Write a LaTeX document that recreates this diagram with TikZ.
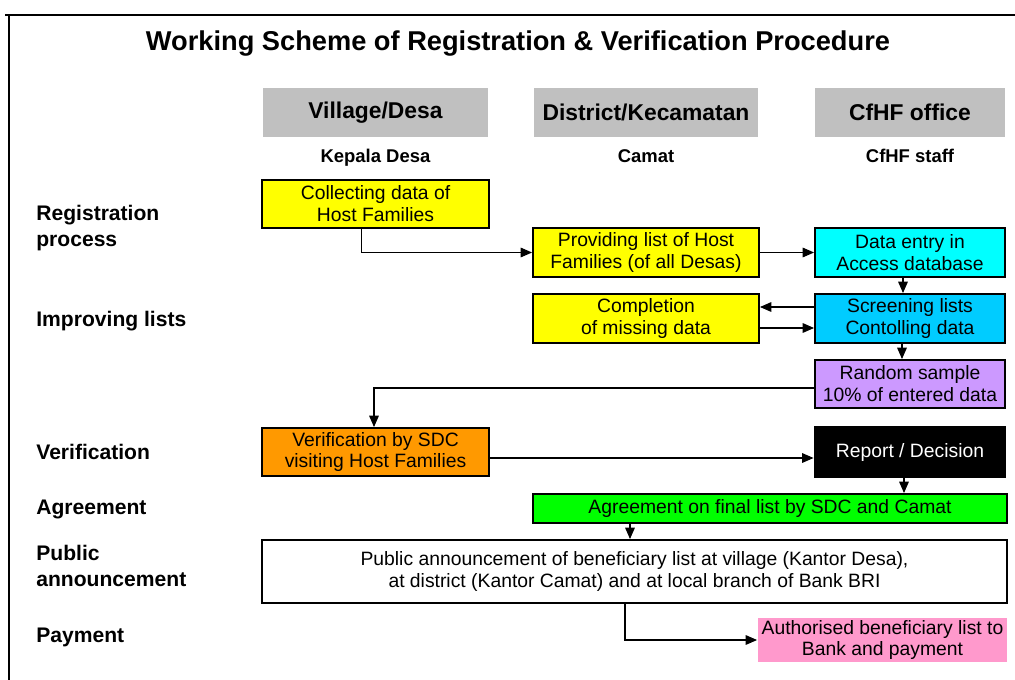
\documentclass[tikz,border=0pt]{standalone}
\usepackage{fontspec}
\setmainfont{Liberation Sans}
\usepackage{xcolor}
\usetikzlibrary{shapes,arrows.meta,positioning}

\definecolor{hdrgray}{HTML}{C0C0C0}
\definecolor{boxyellow}{HTML}{FFFF00}
\definecolor{boxcyan}{HTML}{00FFFF}
\definecolor{boxsky}{HTML}{00CCFF}
\definecolor{boxlilac}{HTML}{CC99FF}
\definecolor{boxorange}{HTML}{FF9900}
\definecolor{boxgreen}{HTML}{00FF00}
\definecolor{boxpink}{HTML}{FF99CC}

\begin{document}
\begin{tikzpicture}[x=0.02cm, y=-0.02cm, node distance=0.2cm]
    % Styles
    \tikzstyle{block} = [rectangle, draw, line width=1.1pt, align=center, inner sep=1pt, font=\fontsize{11}{12.5}\selectfont]
    \tikzstyle{header} = [rectangle, fill=hdrgray, minimum width=4.5cm, minimum height=0.98cm, font=\fontsize{13}{15}\bfseries]
    \tikzstyle{staff} = [font=\fontsize{10.5}{12.5}\bfseries]
    \tikzstyle{phase} = [anchor=west, align=left, inner sep=0pt, font=\fontsize{12}{15}\bfseries]
    \tikzstyle{line} = [draw, line width=0.6pt, -{Triangle[length=6.5pt,width=5.5pt]}]
    \useasboundingbox (0,0) rectangle (1015,680);

    % Frame
    \draw[line width=1.5pt] (5,15) -- (1015,15);
    \draw[line width=1.5pt] (9,15) -- (9,680);

    % Title and columns
    \node[font=\fontsize{15.5}{18}\bfseries] (title) at (518,44) {Working Scheme of Registration \& Verification Procedure};
    \node [header] (desa) at (375.5,112.5) {Village/Desa};
    \node [header] (camat) at (646,112.5) {District/Kecamatan};
    \node [header, minimum width=3.8cm] (cfhf) at (910,112.5) {CfHF office};
    \node [staff, below=0.12cm of desa] (kepala) {Kepala Desa};
    \node [staff, below=0.12cm of camat] (camatstaff) {Camat};
    \node [staff, below=0.12cm of cfhf] (cfhfstaff) {CfHF staff};

    % Phases
    \node [phase] (regis) at (36,228) {Registration\\process};
    \node [phase] (improve) at (36,321) {Improving lists};
    \node [phase] (verif) at (36,452) {Verification};
    \node [phase] (agreem) at (36,509) {Agreement};
    \node [phase] (publ) at (36,566) {Public\\announcement};
    \node [phase] (paym) at (36,637) {Payment};

    % Nodes
    \node [block, fill=boxyellow, minimum width=4.54cm, minimum height=0.96cm] (collect) at (375.5,204) {Collecting data of\\Host Families};
    \node [block, fill=boxyellow, minimum width=4.52cm, minimum height=0.98cm] (provide) at (646,252.5) {Providing list of Host\\Families (of all Desas)};
    \node [block, fill=boxcyan, minimum width=3.8cm, minimum height=0.98cm] (entry) at (910,252.5) {Data entry in\\Access database};
    \node [block, fill=boxyellow, minimum width=4.52cm, minimum height=0.98cm] (complete) at (646,318.5) {Completion\\of missing data};
    \node [block, fill=boxsky, minimum width=3.8cm, minimum height=0.98cm] (screen) at (910,318.5) {Screening lists\\Contolling data};
    \node [block, fill=boxlilac, minimum width=3.8cm, minimum height=0.96cm] (sample) at (910,384) {Random sample\\10\% of entered data};
    \node [block, fill=boxorange, minimum width=4.54cm, minimum height=0.96cm] (verify) at (375.5,452) {Verification by SDC\\visiting Host Families};
    \node [block, fill=black, text=white, minimum width=3.82cm, minimum height=1cm] (report) at (910,452) {Report / Decision};
    \node [block, fill=boxgreen, minimum width=9.48cm, minimum height=0.58cm] (agree) at (770,508.5) {Agreement on final list by SDC and Camat};
    \node [block, fill=white, minimum width=14.9cm, minimum height=1.26cm] (public) at (634.5,571.5) {Public announcement of beneficiary list at village (Kantor Desa),\\at district (Kantor Camat) and at local branch of Bank BRI};
    \node [block, draw=none, fill=boxpink, minimum width=4.98cm, minimum height=0.88cm] (pay) at (882.5,640) {Authorised beneficiary list to\\Bank and payment};

    % Edges
    \path [line] ([xshift=-0.28cm]collect.south) |- (provide.west);
    \path [line] (provide.east) -- (entry.west);
    \path [line] ([xshift=-0.14cm]entry.south) -- ([xshift=-0.14cm]screen.north);
    \path [line] ([yshift=0.23cm]screen.west) -- ([yshift=0.23cm]complete.east);
    \path [line] ([yshift=-0.19cm]complete.east) -- ([yshift=-0.19cm]screen.west);
    \path [line] ([xshift=-0.16cm]screen.south) -- ([xshift=-0.16cm]sample.north);
    \path [line] ([yshift=-0.08cm]sample.west) -| ([xshift=-0.03cm]verify.north);
    \path [line] ([yshift=-0.12cm]verify.east) -- ([yshift=-0.12cm]report.west);
    \path [line] ([xshift=-0.12cm]report.south) -- ([xshift=-0.12cm]report.south |- agree.north);
    \path [line] ([xshift=-0.09cm]public.north |- agree.south) -- ([xshift=-0.09cm]public.north);
    \path [line] ([xshift=-0.19cm]public.south) |- (pay.west);
\end{tikzpicture}
\end{document}
